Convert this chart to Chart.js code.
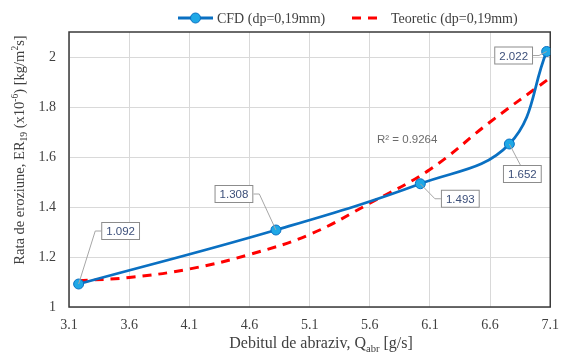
<!DOCTYPE html>
<html>
<head>
<meta charset="utf-8">
<script src="https://cdn.jsdelivr.net/npm/chart.js@4.4.1/dist/chart.umd.min.js"></script>
<style>
  html, body { margin: 0; padding: 0; background: #fff; }
  #wrap { width: 569px; height: 355px; }
</style>
</head>
<body>
<div id="wrap"><canvas id="chart" width="569" height="355"></canvas></div>
<script>
// ---- Data ---------------------------------------------------
const cfdFlow = [3.18, 4.82, 6.02, 6.76, 7.07];
const cfdRate = [1.092, 1.308, 1.493, 1.652, 2.022];
const teoFlow = [3.18, 3.6, 4.1, 4.6, 5.1, 5.6, 6.1, 6.6, 7.08];
const teoRate = [1.105, 1.118, 1.152, 1.21, 1.29, 1.415, 1.55, 1.74, 1.91];
const xTicks  = [3.1, 3.6, 4.1, 4.6, 5.1, 5.6, 6.1, 6.6, 7.1];
const yTicks  = [1, 1.2, 1.4, 1.6, 1.8, 2];
const r2Label = "R² = 0.9264";
const r2Pos   = [5.66, 1.667];

// ---- Styles -------------------------------------------------
const SERIF   = "'Liberation Serif', 'DejaVu Serif', serif";
const SANS    = "'Liberation Sans', Arial, sans-serif";
const BLUE    = "#0A70C2";
const MARKER  = "#1FA8E6";
const RED     = "#FF0000";
const INK     = "#404040";
// label box offsets (box centre relative to its point)
const boxOffsets = [[42, -53], [-42, -36], [40, 15], [13, 30], [-33, 4]];

// ---- Helpers ------------------------------------------------
function drawRich(ctx, parts, x, y, size, family, color) {
  const segs = parts.map(p => {
    const s = (p.sub || p.sup) ? size * 0.66 : size;
    ctx.font = `${s}px ${family}`;
    return { ...p, s, w: ctx.measureText(p.t).width };
  });
  const total = segs.reduce((a, b) => a + b.w, 0);
  let cx = x - total / 2;
  ctx.fillStyle = color;
  ctx.textAlign = "left";
  ctx.textBaseline = "alphabetic";
  segs.forEach(p => {
    ctx.font = `${p.s}px ${family}`;
    const dy = p.sub ? size * 0.22 : p.sup ? -size * 0.4 : 0;
    ctx.fillText(p.t, cx, y + dy);
    cx += p.w;
  });
}

// ---- Plugins ------------------------------------------------
const framePlugin = {
  id: "frame",
  beforeDatasetsDraw(chart) {
    const { ctx, chartArea: a } = chart;
    ctx.save();
    ctx.strokeStyle = "#3a3a3a";
    ctx.lineWidth = 1.5;
    ctx.strokeRect(a.left, a.top, a.right - a.left, a.bottom - a.top);
    ctx.restore();
  }
};

const valueLabels = {
  id: "valueLabels",
  afterDatasetsDraw(chart) {
    const { ctx } = chart;
    const meta = chart.getDatasetMeta(0);
    ctx.save();
    ctx.font = `11.5px ${SANS}`;
    meta.data.forEach((pt, i) => {
      const text = cfdRate[i].toFixed(3);
      const w = ctx.measureText(text).width + 10, h = 18;
      const [dx, dy] = boxOffsets[i];
      const cx = pt.x + dx, cy = pt.y + dy;
      const bx = cx - w / 2, by = cy - h / 2;

      // leader line
      ctx.strokeStyle = "#a6a6a6";
      ctx.lineWidth = 1;
      ctx.beginPath();
      if (Math.abs(dx) > w / 2) {
        const side = dx > 0 ? bx : bx + w;
        const elbow = dx > 0 ? side - 6 : side + 6;
        ctx.moveTo(pt.x, pt.y);
        ctx.lineTo(elbow, cy);
        ctx.lineTo(side, cy);
      } else {
        const edge = dy > 0 ? by : by + h;
        ctx.moveTo(pt.x, pt.y);
        ctx.lineTo(cx - 2, edge);
      }
      ctx.stroke();

      // box
      ctx.fillStyle = "#fff";
      ctx.fillRect(bx, by, w, h);
      ctx.strokeStyle = "#8c8c8c";
      ctx.strokeRect(bx + 0.5, by + 0.5, w - 1, h - 1);
      ctx.fillStyle = "#3C4F7A";
      ctx.textAlign = "center";
      ctx.textBaseline = "middle";
      ctx.fillText(text, cx, cy + 1);
    });

    // trendline R²
    const xs = chart.scales.x, ys = chart.scales.y;
    ctx.font = `11.5px ${SANS}`;
    ctx.fillStyle = "#6b6b6b";
    ctx.textAlign = "left";
    ctx.textBaseline = "middle";
    ctx.fillText(r2Label, xs.getPixelForValue(r2Pos[0]), ys.getPixelForValue(r2Pos[1]));
    ctx.restore();
  }
};

const titlesAndLegend = {
  id: "titlesAndLegend",
  afterDraw(chart) {
    const { ctx } = chart;
    ctx.save();

    // x axis title
    drawRich(ctx, [
      { t: "Debitul de abraziv, Q" }, { t: "abr", sub: true }, { t: " [g/s]" }
    ], 321, 348, 16, SERIF, INK);

    // y axis title
    ctx.save();
    ctx.translate(24, 150);
    ctx.rotate(-Math.PI / 2);
    drawRich(ctx, [
      { t: "Rata de eroziune, ER" }, { t: "19", sub: true }, { t: " (x10" },
      { t: "-6", sup: true }, { t: ") [kg/m" }, { t: "2", sup: true }, { t: "s]" }
    ], 0, 0, 14.5, SERIF, INK);
    ctx.restore();

    // legend
    const ly = 18;
    ctx.font = `14px ${SERIF}`;
    ctx.textBaseline = "middle";
    ctx.textAlign = "left";

    ctx.strokeStyle = BLUE;
    ctx.lineWidth = 3;
    ctx.beginPath(); ctx.moveTo(178, ly); ctx.lineTo(213, ly); ctx.stroke();
    ctx.beginPath(); ctx.arc(195.5, ly, 5, 0, Math.PI * 2);
    ctx.fillStyle = MARKER; ctx.fill();
    ctx.lineWidth = 1; ctx.strokeStyle = BLUE; ctx.stroke();
    ctx.fillStyle = INK;
    ctx.fillText("CFD (dp=0,19mm)", 217, ly + 1);

    ctx.strokeStyle = RED;
    ctx.lineWidth = 3;
    ctx.setLineDash([9, 7]);
    ctx.beginPath(); ctx.moveTo(352, ly); ctx.lineTo(381, ly); ctx.stroke();
    ctx.setLineDash([]);
    ctx.fillStyle = INK;
    ctx.fillText("Teoretic (dp=0,19mm)", 391, ly + 1);

    ctx.restore();
  }
};

// ---- Chart --------------------------------------------------
new Chart(document.getElementById("chart").getContext("2d"), {
  type: "scatter",
  data: {
    datasets: [
      {
        label: "CFD (dp=0,19mm)",
        data: cfdFlow.map((x, i) => ({ x, y: cfdRate[i] })),
        showLine: true,
        borderColor: BLUE,
        borderWidth: 2.8,
        tension: 0.4,
        pointRadius: 5,
        pointBackgroundColor: MARKER,
        pointBorderColor: BLUE,
        pointBorderWidth: 1,
        order: 0,
      },
      {
        label: "Teoretic (dp=0,19mm)",
        data: teoFlow.map((x, i) => ({ x, y: teoRate[i] })),
        showLine: true,
        borderColor: RED,
        borderWidth: 3,
        borderDash: [9, 7],
        tension: 0.4,
        pointRadius: 0,
        order: 1,
      },
    ],
  },
  options: {
    responsive: false,
    animation: false,
    devicePixelRatio: 1,
    layout: { padding: { top: 32, right: 11, left: 0, bottom: 0 } },
    plugins: {
      legend: { display: false },
      tooltip: { enabled: false },
    },
    scales: {
      x: {
        type: "linear",
        min: 3.1, max: 7.1,
        afterBuildTicks: (s) => { s.ticks = xTicks.map(v => ({ value: v })); },
        afterFit: (s) => { s.height = 48; },
        grid: { color: "#d9d9d9", lineWidth: 1, drawTicks: false },
        border: { display: false },
        ticks: {
          padding: 10,
          color: INK,
          font: { family: SERIF, size: 14 },
          callback: (v) => Number(v).toFixed(1),
        },
      },
      y: {
        type: "linear",
        min: 1, max: 2.1,
        afterBuildTicks: (s) => { s.ticks = yTicks.map(v => ({ value: v })); },
        afterFit: (s) => { s.width = 69; },
        grid: { color: "#d9d9d9", lineWidth: 1, drawTicks: false },
        border: { display: false },
        ticks: {
          padding: 13,
          color: INK,
          font: { family: SERIF, size: 14 },
          callback: (v) => String(+Number(v).toFixed(1)),
        },
      },
    },
  },
  plugins: [framePlugin, valueLabels, titlesAndLegend],
});
</script>
</body>
</html>
